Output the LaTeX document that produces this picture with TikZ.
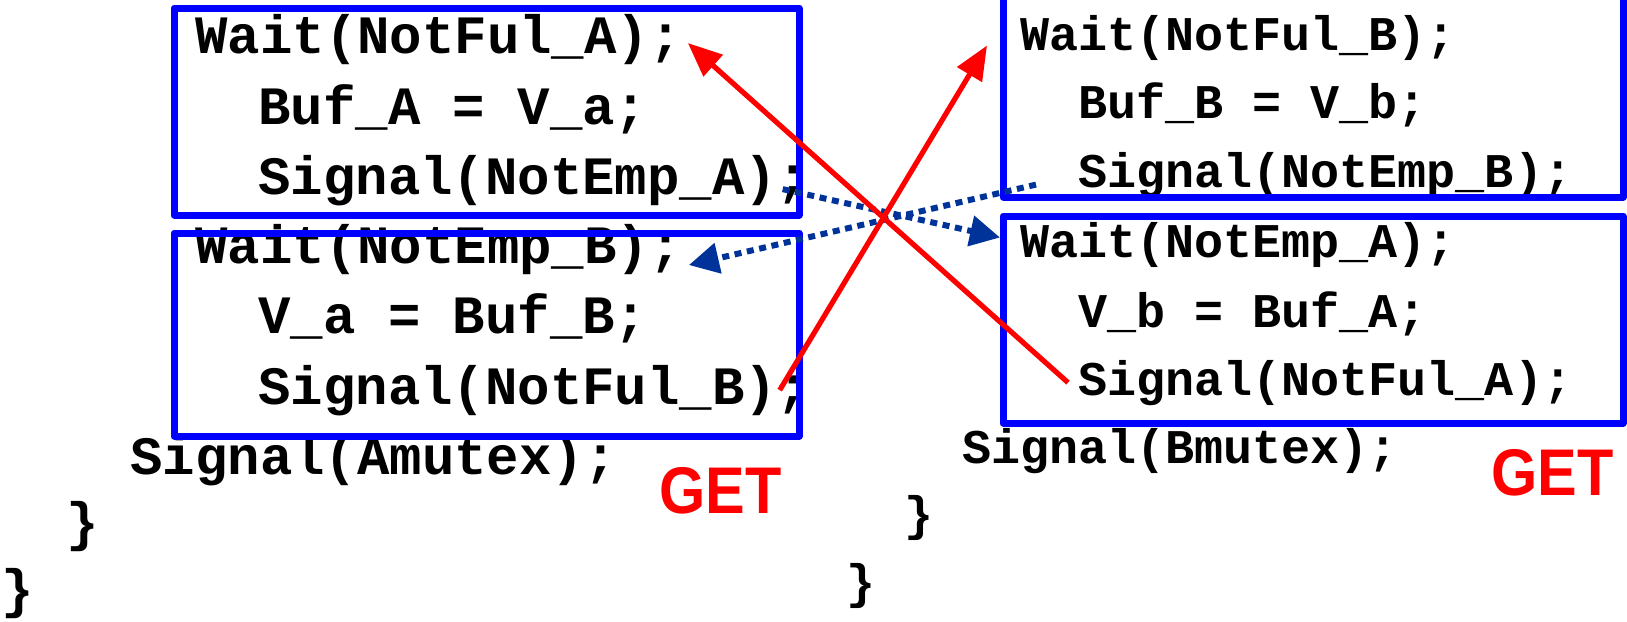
\documentclass[tikz,border=0pt]{standalone}
\usepackage{fontspec}
\setmainfont{Liberation Sans}
\setsansfont{Liberation Sans}
\setmonofont{Liberation Mono}
\usetikzlibrary{arrows.meta}
\definecolor{sigblue}{RGB}{0,51,153}

\tikzset{
  codeA/.style={anchor=base west, inner sep=0pt, font=\ttfamily\bfseries\fontsize{27}{30}\selectfont},
  codeB/.style={codeA, font=\ttfamily\bfseries\fontsize{24.2}{28}\selectfont},
  blk/.style={draw=blue, line width=3.5pt, line join=round},
  get/.style={anchor=base west, inner sep=0pt, text=red, xscale=0.9, font=\sffamily\bfseries\fontsize{33}{36}\selectfont},
  hand/.style={draw=red, line width=2.6pt, -{Triangle[length=17pt,width=14pt]}},
  wake/.style={draw=sigblue, line width=3pt, dash pattern=on 3.5pt off 2.8pt, -{Triangle[length=15pt,width=15pt]}}
}

\begin{document}
\begin{tikzpicture}[x=0.5pt, y=-0.5pt]
  \useasboundingbox (0,0) rectangle (1627,621);
  \clip (0,0) rectangle (1627,621);

  \node[codeA] (wfa) at (195,54)  {Wait(NotFul\_A);};
  \node[codeA] (bfa) at (258,124) {Buf\_A = V\_a;};
  \node[codeA] (sea) at (258,194) {Signal(NotEmp\_A);};
  \node[codeA] (web) at (195,263) {Wait(NotEmp\_B);};
  \node[codeA] (vab) at (258,333) {V\_a = Buf\_B;};
  \node[codeA] (sfb) at (258,404) {Signal(NotFul\_B);};
  \node[codeA] (sam) at (130,474) {Signal(Amutex);};
  \node[codeA] (cl1) at (66,540)  {\}};
  \node[codeA] (cl2) at (1,607)   {\}};

  \node[codeB] (wfb) at (1020,50)  {Wait(NotFul\_B);};
  \node[codeB] (bfb) at (1078,118) {Buf\_B = V\_b;};
  \node[codeB] (seb) at (1078,187) {Signal(NotEmp\_B);};
  \node[codeB] (wea) at (1020,257) {Wait(NotEmp\_A);};
  \node[codeB] (vba) at (1078,327) {V\_b = Buf\_A;};
  \node[codeB] (sfa) at (1078,395) {Signal(NotFul\_A);};
  \node[codeB] (sbm) at (962,463)  {Signal(Bmutex);};
  \node[codeB] (cr1) at (904,530)  {\}};
  \node[codeB] (cr2) at (846,598)  {\}};

  \node[get] (getA) at (659,513)  {GET};
  \node[get] (getB) at (1491,495) {GET};

  \draw[blk] (174,8) rectangle (799,215);
  \draw[blk] (174,233) rectangle (799,436);
  \draw[blk] (1003,-20) rectangle (1623,197);
  \draw[blk] (1003,216) rectangle (1623,423);

  \draw[wake] ([xshift=-13.5pt, yshift=-4.5pt]sea.east) -- ([xshift=-10pt, yshift=3.5pt]wea.west);
  \draw[wake] ([xshift=-21pt, yshift=-5pt]seb.west) -- ([xshift=3.5pt, yshift=-8pt]web.east);
  \draw[hand] ([xshift=-5pt]sfa.west) -- ([xshift=3pt, yshift=-1.5pt]wfa.east);
  \draw[hand] ([xshift=-15pt]sfb.east) -- ([xshift=-16.5pt, yshift=-4pt]wfb.west);
\end{tikzpicture}
\end{document}
